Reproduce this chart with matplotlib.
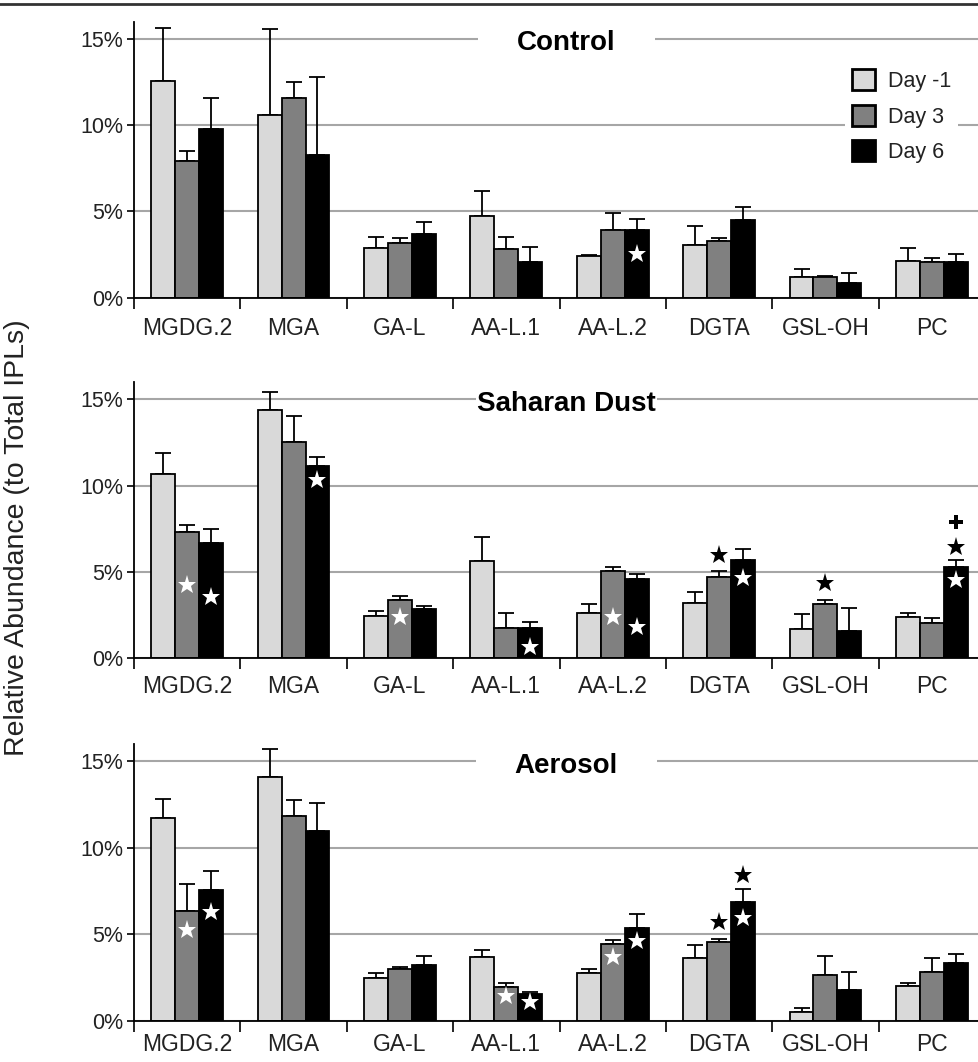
import numpy as np
import matplotlib
matplotlib.use("Agg")
import matplotlib.pyplot as plt
from matplotlib.patches import Patch
from matplotlib.lines import Line2D

plt.rcParams['font.family'] = ['Liberation Sans', 'DejaVu Sans']

lipids = ["MGDG.2", "MGA", "GA-L", "AA-L.1", "AA-L.2", "DGTA", "GSL-OH", "PC"]
days = ["Day -1", "Day 3", "Day 6"]
treatments = ["Control", "Saharan Dust", "Aerosol"]

# relative abundance (%) per day, and upper error (%)
control_d1 = [12.59, 10.60, 2.87, 4.72, 2.41, 3.05, 1.21, 2.14]
control_d3 = [7.92, 11.55, 3.20, 2.80, 3.91, 3.28, 1.21, 2.06]
control_d6 = [9.79, 8.27, 3.68, 2.08, 3.91, 4.49, 0.87, 2.06]
control_e1 = [3.04, 4.96, 0.64, 1.45, 0.08, 1.09, 0.47, 0.73]
control_e3 = [0.58, 0.98, 0.25, 0.71, 1.01, 0.17, 0.04, 0.27]
control_e6 = [1.76, 4.55, 0.73, 0.87, 0.66, 0.77, 0.58, 0.50]

dust_d1 = [10.68, 14.38, 2.47, 5.64, 2.64, 3.19, 1.68, 2.41]
dust_d3 = [7.30, 12.53, 3.36, 1.76, 5.06, 4.73, 3.13, 2.07]
dust_d6 = [6.66, 11.16, 2.88, 1.76, 4.58, 5.69, 1.60, 5.31]
dust_e1 = [1.19, 1.03, 0.25, 1.41, 0.49, 0.67, 0.89, 0.23]
dust_e3 = [0.42, 1.50, 0.25, 0.88, 0.25, 0.33, 0.25, 0.25]
dust_e6 = [0.81, 0.48, 0.17, 0.32, 0.30, 0.64, 1.30, 0.38]

aerosol_d1 = [11.71, 14.10, 2.48, 3.68, 2.77, 3.62, 0.48, 2.02]
aerosol_d3 = [6.32, 11.86, 2.98, 1.93, 4.41, 4.56, 2.64, 2.79]
aerosol_d6 = [7.53, 10.98, 3.20, 1.52, 5.37, 6.89, 1.77, 3.31]
aerosol_e1 = [1.10, 1.59, 0.25, 0.42, 0.20, 0.77, 0.25, 0.14]
aerosol_e3 = [1.56, 0.89, 0.14, 0.23, 0.25, 0.18, 1.12, 0.81]
aerosol_e6 = [1.12, 1.58, 0.56, 0.16, 0.79, 0.70, 1.02, 0.54]

# significance marks: (lipid index, day index, level %, symbol, colour)
control_marks = [(4, 2, 2.56, '*', 'white')]
dust_marks = [(0, 1, 4.25, '*', 'white'), (0, 2, 3.57, '*', 'white'),
              (1, 2, 10.33, '*', 'white'), (2, 1, 2.41, '*', 'white'),
              (3, 2, 0.64, '*', 'white'), (4, 1, 2.41, '*', 'white'),
              (4, 2, 1.83, '*', 'white'), (5, 1, 5.98, '*', 'black'),
              (5, 2, 4.63, '*', 'white'), (6, 1, 4.38, '*', 'black'),
              (7, 2, 4.54, '*', 'white'), (7, 2, 6.47, '*', 'black'),
              (7, 2, 7.92, 'P', 'black')]
aerosol_marks = [(0, 1, 5.24, '*', 'white'), (0, 2, 6.30, '*', 'white'),
                 (3, 1, 1.42, '*', 'white'), (3, 2, 1.10, '*', 'white'),
                 (4, 1, 3.70, '*', 'white'), (4, 2, 4.62, '*', 'white'),
                 (5, 1, 5.72, '*', 'black'), (5, 2, 5.91, '*', 'white'),
                 (5, 2, 8.42, '*', 'black')]

panels = [
    (control_d1, control_d3, control_d6, control_e1, control_e3, control_e6, control_marks),
    (dust_d1, dust_d3, dust_d6, dust_e1, dust_e3, dust_e6, dust_marks),
    (aerosol_d1, aerosol_d3, aerosol_d6, aerosol_e1, aerosol_e3, aerosol_e6, aerosol_marks),
]

colors = ['#d9d9d9', '#808080', '#000000']
txt = '#222222'
W, H = 979, 1062
fig = plt.figure(figsize=(W / 100, H / 100), dpi=100)

# axes boxes in pixels: (left, bottom-from-top, right, top-from-top)
boxes = [(134, 297.7, 985, 21.7), (134, 658.3, 985, 382), (134, 1020.7, 985, 744)]
title_pad = [28, 1, 28]
label_pad = [14, 12, 9]

x = np.arange(len(lipids)) + 0.5
bw = 0.225

for k, (box, data) in enumerate(zip(boxes, panels)):
    l, b, r, t = box
    ax = fig.add_axes([l / W, 1 - b / H, (r - l) / W, (b - t) / H])
    vals = data[:3]
    errs = data[3:6]
    marks = data[6]
    for j in range(3):
        xj = x + (j - 1) * bw
        ax.bar(xj, vals[j], width=bw, color=colors[j], edgecolor='black',
               linewidth=1.3, zorder=3, label=days[j])
        ax.errorbar(xj, vals[j], yerr=[np.zeros(len(lipids)), errs[j]], fmt='none',
                    ecolor='black', elinewidth=1.3, capsize=6, capthick=1.3, zorder=2)
    for (i, j, lvl, sym, col) in marks:
        ms = 14 if sym == '*' else 10
        ax.plot(x[i] + (j - 1) * bw, lvl, marker=sym, ms=ms, color=col,
                markeredgewidth=0, linestyle='none', zorder=5)

    ax.set_xlim(0, len(lipids))
    ax.set_ylim(0, 16)
    ax.set_yticks([0, 5, 10, 15])
    ax.set_yticklabels(['0%', '5%', '10%', '15%'], fontsize=15.5, color=txt)
    ax.yaxis.grid(True, color='#a6a6a6', linewidth=1.5, zorder=0)
    ax.set_axisbelow(True)
    ax.set_xticks(np.arange(len(lipids) + 1))
    ax.set_xticklabels([])
    ax.set_xticks(x, minor=True)
    ax.set_xticklabels(lipids, minor=True, fontsize=16.5, color=txt)
    ax.tick_params(axis='x', which='major', direction='out', length=8, width=1.2)
    ax.tick_params(axis='x', which='minor', length=0, pad=label_pad[k])
    ax.tick_params(axis='y', direction='out', length=5, width=1.2, pad=3)
    for s in ['top', 'right']:
        ax.spines[s].set_visible(False)
    for s in ['left', 'bottom']:
        ax.spines[s].set_linewidth(1.3)
        ax.spines[s].set_color('black')
    ax.spines['bottom'].set_zorder(6)

    ax.text(0.508, 14.75, treatments[k], transform=ax.get_yaxis_transform(),
            ha='center', va='center', fontsize=20, fontweight='bold', color='black',
            bbox=dict(facecolor='white', edgecolor='none', pad=title_pad[k]), zorder=4)

    if k == 0:
        handles = [Patch(facecolor=c, edgecolor='black', linewidth=2) for c in colors]
        leg = ax.legend(handles, days, loc='upper left', bbox_to_anchor=(0.823, 0.89),
                        fontsize=15.5, frameon=True, handlelength=1.1, handleheight=1.1,
                        handletextpad=0.6, labelspacing=0.6, borderpad=0.3)
        leg.get_frame().set_facecolor('white')
        leg.get_frame().set_edgecolor('none')
        leg.get_frame().set_alpha(1)
        for tx in leg.get_texts():
            tx.set_color(txt)

fig.text(17 / W, 1 - 538 / H, "Relative Abundance (to Total IPLs)", rotation=90,
         ha='center', va='center', fontsize=20.5, color=txt)

# thin frame line along the top edge
fig.add_artist(Line2D([0, 1], [1 - 4 / H, 1 - 4 / H], color='#333333', linewidth=2,
                      transform=fig.transFigure))

fig.savefig('out.png', dpi=100)
